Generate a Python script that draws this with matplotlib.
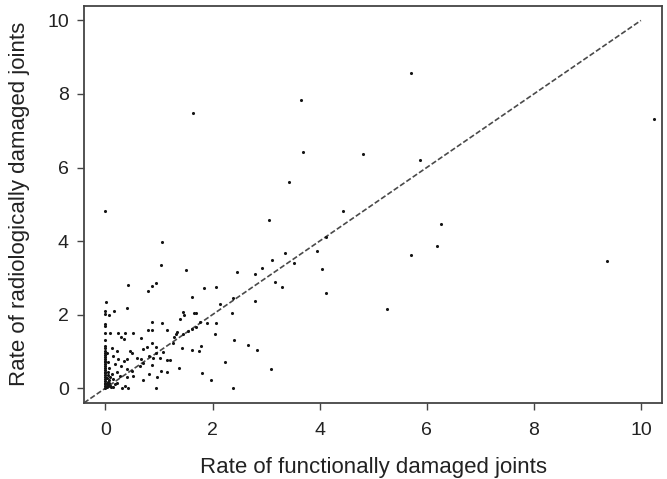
import matplotlib
matplotlib.use("Agg")
import matplotlib.pyplot as plt
import numpy as np

plt.rcParams['font.family'] = ['Liberation Sans', 'DejaVu Sans']

# functionally damaged (x) vs radiologically damaged (y)
func_rate = [
    1.63, 3.66, 3.68, 4.81, 3.43, 5.70, 10.24, 5.87, 6.26, 6.19, 5.71, 9.37,
    0.00, 3.06, 4.44, 4.11, 3.96, 4.04, 4.11, 5.26, 3.35, 3.11, 3.53, 2.92,
    2.79, 2.45, 3.17, 3.29, 2.38, 2.13, 2.79, 2.37, 2.40, 2.67, 2.83, 2.24,
    3.10, 2.38, 1.05, 1.04, 1.50, 0.43, 0.79, 0.87, 0.95, 1.84, 2.06, 1.61,
    # column near zero and close neighbours
    0.01, 0.00, 0.00, 0.07, 0.16, 0.40, 0.00, 0.00, 0.00, 0.09, 0.24, 0.37,
    0.52, 0.29, 0.34, 0.00, 0.66,
    0.00, 0.00, 0.00, 0.00, 0.00, 0.00, 0.00, 0.00, 0.00, 0.00, 0.00, 0.00,
    0.00, 0.00, 0.00, 0.00, 0.00, 0.00, 0.00, 0.00, 0.00, 0.00, 0.00,
    0.03, 0.03, 0.03, 0.04, 0.04, 0.05, 0.05, 0.06, 0.06, 0.08, 0.03, 0.04,
    0.12, 0.21, 0.15, 0.45, 0.49, 0.59, 0.24, 0.34, 0.40, 0.18, 0.29, 0.65,
    0.40, 0.49, 0.21, 0.12, 0.27, 0.52, 0.15, 0.06, 0.18, 0.09, 0.30, 0.37,
    0.43, 0.40, 0.10, 0.14, 0.22, 0.08,
    # 0.7 - 1.7 cluster
    1.44, 1.46, 1.65, 1.40, 0.87, 1.05, 0.80, 0.87, 1.14, 1.34, 1.32, 1.45,
    1.54, 1.62, 1.70, 1.28, 0.87, 1.26, 0.77, 0.71, 0.94, 1.43, 1.62, 0.95,
    1.07, 0.82, 0.89, 1.02, 1.14, 1.20, 0.67, 0.70, 0.87, 1.37, 1.04, 1.15,
    0.81, 0.96, 0.70, 0.95,
    # 1.7 - 2.4
    1.76, 1.90, 2.06, 2.04, 1.78, 1.75, 1.80, 1.97, 1.69,
]
radio_rate = [
    7.48, 7.85, 6.42, 6.36, 5.61, 8.56, 7.31, 6.20, 4.46, 3.87, 3.63, 3.45,
    4.81, 4.57, 4.81, 4.12, 3.72, 3.23, 2.60, 2.15, 3.67, 3.49, 3.41, 3.27,
    3.10, 3.16, 2.90, 2.74, 2.45, 2.29, 2.36, 2.05, 1.32, 1.18, 1.05, 0.70,
    0.51, 0.00, 3.97, 3.35, 3.20, 2.81, 2.65, 2.78, 2.86, 2.72, 2.76, 2.48,
    2.35, 2.10, 2.01, 1.99, 2.09, 2.17, 1.75, 1.69, 1.51, 1.51, 1.51, 1.51,
    1.51, 1.38, 1.33, 1.32, 1.35,
    1.15, 1.08, 1.02, 0.96, 0.90, 0.85, 0.80, 0.75, 0.70, 0.65, 0.60, 0.55,
    0.50, 0.45, 0.40, 0.35, 0.30, 0.25, 0.20, 0.15, 0.10, 0.05, 0.00,
    0.02, 0.12, 0.28, 0.45, 0.70, 0.08, 0.36, 0.22, 0.55, 0.05, 0.95, 0.18,
    1.08, 1.01, 0.88, 1.01, 0.95, 0.83, 0.79, 0.74, 0.79, 0.65, 0.61, 0.61,
    0.52, 0.47, 0.43, 0.38, 0.33, 0.33, 0.24, 0.15, 0.11, 0.06, 0.00, 0.06,
    0.00, 0.29, 0.02, 0.04, 0.14, 0.30,
    2.08, 1.98, 2.03, 1.88, 1.80, 1.77, 1.58, 1.58, 1.58, 1.54, 1.47, 1.47,
    1.56, 1.60, 1.65, 1.38, 1.24, 1.24, 1.12, 1.06, 1.11, 1.09, 1.03, 0.95,
    0.97, 0.88, 0.83, 0.82, 0.77, 0.77, 0.79, 0.68, 0.63, 0.56, 0.47, 0.44,
    0.38, 0.29, 0.23, 0.00,
    1.81, 1.78, 1.78, 1.47, 1.15, 1.01, 0.41, 0.22, 2.04,
]

ticks = [0, 2, 4, 6, 8, 10]
lim = (-0.4, 10.4)
edge = '#444444'

fig = plt.figure(figsize=(6.67, 4.79), dpi=100)
ax = fig.add_axes([0.126, 0.159, 0.867, 0.829])

# identity line, from the lower corner of the box up to (10, 10)
ax.plot([lim[0], 10], [lim[0], 10], color='#4a4a4a', lw=1.2,
        linestyle=(0, (3.2, 1.4)))
ax.scatter(func_rate, radio_rate, s=5, color='#141414', linewidths=0, zorder=3)

ax.set_xlim(*lim)
ax.set_ylim(*lim)
ax.set_xticks(ticks)
ax.set_yticks(ticks)
for sp in ax.spines.values():
    sp.set_color(edge)
    sp.set_linewidth(1.3)
ax.tick_params(direction='out', length=5, width=1, color=edge,
               labelsize=14, labelcolor='#222222', pad=6)
ax.tick_params(axis='x', pad=8.5)

ax.set_xlabel('Rate of functionally damaged joints', fontsize=16,
              color='#222222', labelpad=13)
ax.set_ylabel('Rate of radiologically damaged joints', fontsize=16,
              color='#222222', labelpad=12)

fig.savefig('out.png', dpi=100)
